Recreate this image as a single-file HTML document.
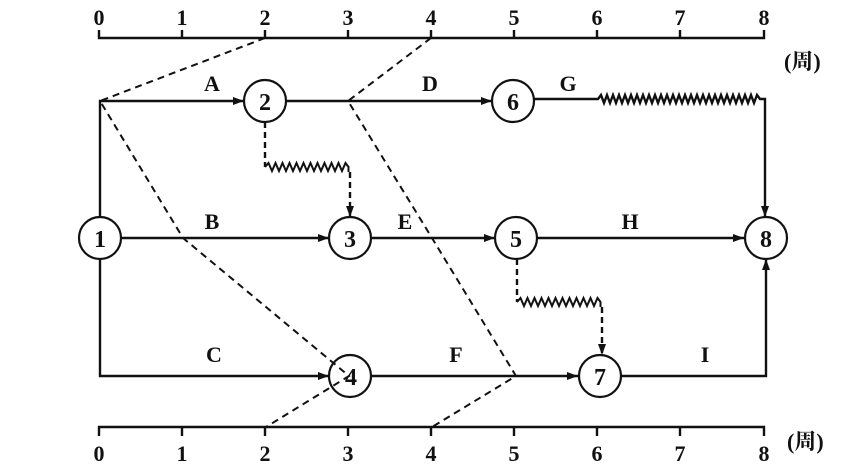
<!DOCTYPE html>
<html><head><meta charset="utf-8"><style>
html,body{margin:0;padding:0;background:#fff;}
svg{display:block;}
text{font-family:"Liberation Serif","Noto Serif CJK SC",serif;font-weight:bold;fill:#111;}
</style></head><body>
<svg width="845" height="467" viewBox="0 0 845 467" xmlns="http://www.w3.org/2000/svg">
<defs>
<marker id="ar" markerWidth="11" markerHeight="8" refX="11" refY="4" orient="auto" markerUnits="userSpaceOnUse">
<path d="M0,0 L11,4 L0,8 z" fill="#111"/></marker>
</defs>
<g stroke="#111" stroke-width="2.4" fill="none">
<path d="M99,30 V38 H764 V30"/>
<path d="M182,30V38 M265,30V38 M348,30V38 M431,30V38 M514,30V38 M597,30V38 M680,30V38"/>
<path d="M99,436 V427 H764 V436"/>
<path d="M182,427V436 M265,427V436 M348,427V436 M431,427V436 M514,427V436 M597,427V436 M680,427V436"/>
</g>
<g font-size="22" text-anchor="middle">
<text x="99" y="25">0</text><text x="182" y="25">1</text><text x="265" y="25">2</text><text x="348" y="25">3</text><text x="431" y="25">4</text><text x="514" y="25">5</text><text x="597" y="25">6</text><text x="680" y="25">7</text><text x="764" y="25">8</text>
<text x="99" y="461">0</text><text x="182" y="461">1</text><text x="265" y="461">2</text><text x="348" y="461">3</text><text x="431" y="461">4</text><text x="514" y="461">5</text><text x="597" y="461">6</text><text x="680" y="461">7</text><text x="764" y="461">8</text>
</g>
<text x="784" y="69" font-size="22">(周)</text>
<text x="787" y="449" font-size="22">(周)</text>

<g stroke="#111" stroke-width="2.4" fill="none">
<path d="M100,218 V101 H244" marker-end="url(#ar)"/>
<path d="M286,101 H492" marker-end="url(#ar)"/>
<path d="M534,99 H598 l3,-4 l3,8 l3,-8 l3,8 l3,-8 l3,8 l3,-8 l3,8 l3,-8 l3,8 l3,-8 l3,8 l3,-8 l3,8 l3,-8 l3,8 l3,-8 l3,8 l3,-8 l3,8 l3,-8 l3,8 l3,-8 l3,8 l3,-8 l3,8 l3,-8 l3,8 l3,-8 l3,8 l3,-8 l3,8 l3,-8 l3,8 l3,-8 l3,8 l3,-8 l3,8 l3,-8 l3,8 l3,-8 l3,8 l3,-8 l3,8 l3,-8 l3,8 l3,-8 l3,8 l3,-8 l3,8 l3,-8 l3,8 l3,-8 l3,4 H765 V217" marker-end="url(#ar)"/>
<path d="M121,238 H329" marker-end="url(#ar)"/>
<path d="M371,238 H495" marker-end="url(#ar)"/>
<path d="M537,238 H744" marker-end="url(#ar)"/>
<path d="M100,259 V376 H329" marker-end="url(#ar)"/>
<path d="M371,376 H578" marker-end="url(#ar)"/>
<path d="M620,376 H766 V259" marker-end="url(#ar)"/>
<path d="M265,122 V167" stroke-dasharray="6,4"/>
<path d="M265,167 l3.5,-4 l3.5,8 l3.5,-8 l3.5,8 l3.5,-8 l3.5,8 l3.5,-8 l3.5,8 l3.5,-8 l3.5,8 l3.5,-8 l3.5,8 l3.5,-8 l3.5,8 l3.5,-8 l3.5,8 l3.5,-8 l3.5,8 l3.5,-8 l3.5,8 l3.5,-8 l3.5,8 l3.5,-8 l3,4 V172" stroke-width="2"/>
<path d="M350,172 V217" stroke-dasharray="6,4" marker-end="url(#ar)"/>
<path d="M517,259 V302" stroke-dasharray="6,4"/>
<path d="M517,302 l3.5,-4 l3.5,8 l3.5,-8 l3.5,8 l3.5,-8 l3.5,8 l3.5,-8 l3.5,8 l3.5,-8 l3.5,8 l3.5,-8 l3.5,8 l3.5,-8 l3.5,8 l3.5,-8 l3.5,8 l3.5,-8 l3.5,8 l3.5,-8 l3.5,8 l3.5,-8 l3.5,8 l3.5,-8 l3,4 V307" stroke-width="2"/>
<path d="M602,307 V355" stroke-dasharray="6,4" marker-end="url(#ar)"/>
</g>
<g stroke="#111" stroke-width="2" fill="none" stroke-dasharray="7,5">
<path d="M265,38 L100,101 L183,238 L349,376 L266,427"/>
<path d="M431,38 L348,101 L432,238 L516,376 L432,427"/>
</g>
<g stroke="#111" stroke-width="2.2" fill="#fff">
<circle cx="100" cy="238" r="21"/>
<circle cx="265" cy="101" r="21"/>
<circle cx="513" cy="101" r="21"/>
<circle cx="350" cy="238" r="21"/>
<circle cx="516" cy="238" r="21"/>
<circle cx="766" cy="238" r="21"/>
<circle cx="350" cy="376" r="21" fill="none"/>
<circle cx="600" cy="376" r="21"/>
</g>
<g font-size="24" text-anchor="middle">
<text x="100" y="247">1</text>
<text x="265" y="110">2</text>
<text x="513" y="110">6</text>
<text x="350" y="247">3</text>
<text x="516" y="247">5</text>
<text x="766" y="247">8</text>
<text x="351" y="385">4</text>
<text x="600" y="385">7</text>
</g>
<g font-size="22" text-anchor="middle">
<text x="212" y="91">A</text>
<text x="430" y="91">D</text>
<text x="568" y="91">G</text>
<text x="212" y="229">B</text>
<text x="405" y="229">E</text>
<text x="630" y="229">H</text>
<text x="214" y="362">C</text>
<text x="456" y="362">F</text>
<text x="705" y="362">I</text>
</g>
</svg>
</body></html>
